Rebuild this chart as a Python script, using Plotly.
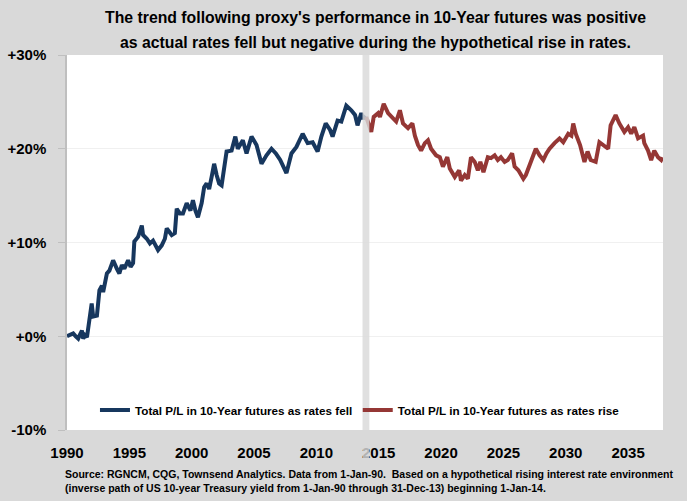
import plotly.graph_objects as go

# ---- data ----
fell_years = [1990.0, 1990.25, 1990.5, 1990.7, 1990.9, 1991.05, 1991.2, 1991.3, 1991.45, 1991.6,
              1991.8, 1991.98, 1992.1, 1992.4, 1992.6, 1992.8, 1992.9, 1993.2, 1993.4, 1993.7,
              1994.0, 1994.2, 1994.4, 1994.6, 1994.9, 1995.1, 1995.3, 1995.4, 1995.7, 1996.0,
              1996.1, 1996.4, 1996.65, 1996.9, 1997.3, 1997.6, 1997.85, 1998.0, 1998.4, 1998.65,
              1998.8, 1999.05, 1999.3, 1999.6, 1999.9, 2000.1, 2000.3, 2000.5, 2000.8, 2001.0,
              2001.2, 2001.4, 2001.6, 2001.8, 2002.0, 2002.2, 2002.4, 2002.8, 2003.2, 2003.5,
              2003.7, 2004.1, 2004.4, 2004.8, 2005.2, 2005.6, 2006.0, 2006.4, 2006.75, 2007.1,
              2007.6, 2008.0, 2008.4, 2008.9, 2009.3, 2009.7, 2010.1, 2010.4, 2010.75, 2011.1,
              2011.3, 2011.7, 2012.0, 2012.4, 2012.8, 2013.1, 2013.3, 2013.6, 2013.75, 2013.95]
fell_pl = [0.0, 0.2, 0.3, 0.0, -0.25, 0.2, 0.6, -0.25, 0.1, -0.1,
           1.9, 3.5, 2.1, 2.2, 4.9, 5.4, 4.7, 6.7, 7.0, 8.1,
           7.2, 6.7, 7.6, 7.2, 8.1, 7.4, 7.8, 10.1, 10.6, 11.8,
           10.8, 10.4, 9.9, 10.2, 9.2, 9.7, 10.4, 11.5, 10.8, 11.0,
           13.6, 13.1, 13.1, 14.2, 13.4, 14.5, 13.4, 12.7, 14.2, 15.9,
           16.3, 15.7, 17.0, 18.4, 17.2, 16.3, 16.1, 19.7, 19.8, 21.3,
           20.0, 20.9, 19.5, 21.3, 20.4, 18.4, 19.3, 20.0, 19.5, 18.8,
           17.4, 19.5, 20.2, 21.6, 20.6, 20.7, 19.7, 21.3, 22.7, 22.0,
           21.3, 23.0, 22.9, 24.6, 24.1, 23.6, 22.5, 23.8, 23.2, 23.5]

rise_years = [2014.0, 2014.4, 2014.6, 2014.95, 2015.1, 2015.4, 2015.75, 2016.15, 2016.4, 2016.7,
              2016.95, 2017.35, 2017.7, 2017.9, 2018.15, 2018.4, 2018.7, 2018.95, 2019.2, 2019.6,
              2019.9, 2020.15, 2020.5, 2020.7, 2021.1, 2021.45, 2021.6, 2021.9, 2022.15, 2022.4,
              2022.7, 2022.95, 2023.15, 2023.4, 2023.75, 2024.0, 2024.3, 2024.55, 2024.8, 2025.1,
              2025.35, 2025.7, 2025.9, 2026.2, 2026.6, 2026.8, 2027.2, 2027.6, 2027.9, 2028.2,
              2028.45, 2028.7, 2029.1, 2029.5, 2029.8, 2030.2, 2030.45, 2030.6, 2030.8, 2031.15,
              2031.5, 2031.75, 2032.0, 2032.4, 2032.7, 2033.0, 2033.4, 2033.6, 2033.8, 2034.0,
              2034.3, 2034.7, 2035.0, 2035.25, 2035.5, 2035.8, 2036.2, 2036.3, 2036.6, 2036.85,
              2037.1, 2037.4, 2037.65, 2037.75]
rise_pl = [23.4, 21.8, 23.4, 23.8, 23.4, 24.8, 23.8, 23.2, 22.9, 24.1,
           22.7, 22.2, 22.7, 21.4, 20.4, 19.8, 20.6, 20.9, 20.0, 19.3,
           19.1, 18.1, 19.1, 17.9, 17.0, 17.7, 16.6, 17.2, 16.8, 19.1,
           18.6, 17.7, 18.6, 17.5, 19.1, 19.0, 19.3, 18.8, 19.1, 18.6,
           18.8, 19.5, 18.1, 17.7, 16.8, 17.2, 18.6, 20.0, 19.3, 18.8,
           19.5, 20.0, 20.6, 21.1, 20.7, 21.6, 21.4, 22.7, 21.6, 20.4,
           18.6, 19.7, 18.8, 18.6, 20.7, 20.4, 20.0, 22.5, 23.0, 23.6,
           22.7, 21.8, 22.3, 21.6, 22.3, 21.1, 21.4, 20.6, 19.8, 18.8,
           19.8, 19.1, 18.8, 19.1]

x_tick_years = [1990, 1995, 2000, 2005, 2010, 2015, 2020, 2025, 2030, 2035]
y_tick_vals = [-10, 0, 10, 20, 30]
y_tick_text = ["-10%", "+0%", "+10%", "+20%", "+30%"]

fell_name = "Total P/L in 10-Year futures as rates fell"
rise_name = "Total P/L in 10-Year futures as rates rise"
title_lines = ["The trend following proxy's performance in 10-Year futures was positive",
               "as actual rates fell but negative during the hypothetical rise in rates."]
source_lines = ["Source: RGNCM, CQG, Townsend Analytics. Data from 1-Jan-90.  Based on a hypothetical rising interest rate environment",
                "(inverse path of US 10-year Treasury yield from 1-Jan-90 through 31-Dec-13) beginning 1-Jan-14."]
split_year = 2014.0

FONT = "Liberation Sans, Arial, sans-serif"
BLUE = "#17375E"
RED = "#953735"
BG = "#D9D9D9"

W, H = 687, 501
L, R, T, B = 67, 23.5, 55, 71
PW, PH = W - L - R, H - T - B

fig = go.Figure()
fig.add_trace(go.Scatter(x=fell_years, y=fell_pl, mode="lines", name=fell_name,
                         line=dict(color=BLUE, width=4), legend="legend"))
fig.add_trace(go.Scatter(x=rise_years, y=rise_pl, mode="lines", name=rise_name,
                         line=dict(color=RED, width=4), legend="legend2"))

# gray separator band at the start of the hypothetical period
fig.add_shape(type="rect", xref="x", yref="paper",
              x0=split_year - 0.3, x1=split_year + 0.25, y0=-0.085, y1=1,
              fillcolor="rgba(217,217,217,0.82)", line=dict(width=0), layer="above")

legend_font = dict(family=FONT, size=11.7, weight="bold", color="black")
legend_common = dict(orientation="h", yanchor="middle", xanchor="left",
                     bgcolor="rgba(0,0,0,0)", font=legend_font, itemclick=False,
                     itemdoubleclick=False)

fig.update_layout(
    width=W, height=H,
    margin=dict(l=L, r=R, t=T, b=B, pad=0),
    paper_bgcolor=BG, plot_bgcolor="white",
    font=dict(family=FONT, color="black"),
    showlegend=True,
    legend=dict(x=(95 - L) / PW, y=(430 - 410) / PH, **legend_common),
    legend2=dict(x=(358 - L) / PW, y=(430 - 410) / PH, **legend_common),
    xaxis=dict(range=[1990, 2037.8], tickmode="array", tickvals=x_tick_years,
               ticktext=[str(v) for v in x_tick_years], showgrid=False, zeroline=False,
               showline=False, ticks="", ticklabelstandoff=12, automargin=False,
               tickfont=dict(family=FONT, size=15, weight="bold", color="black")),
    yaxis=dict(range=[-10, 30], tickmode="array", tickvals=y_tick_vals, ticktext=y_tick_text,
               showgrid=True, gridcolor="#F0F0F0", gridwidth=1, zeroline=False,
               showline=True, linecolor="#BFBFBF", linewidth=1.5, automargin=False,
               ticks="outside", ticklen=7, tickcolor="#BFBFBF", ticklabelstandoff=9,
               tickfont=dict(family=FONT, size=15, weight="bold", color="black")),
)

for i, line in enumerate(title_lines):
    fig.add_annotation(text=line, xref="paper", yref="paper",
                       x=(376 - L) / PW, y=1 + ((T - 18) - i * 24) / PH,
                       xanchor="center", yanchor="middle", showarrow=False,
                       font=dict(family=FONT, size=15.8, weight="bold", color="black"))

for i, line in enumerate(source_lines):
    fig.add_annotation(text=line, xref="paper", yref="paper",
                       x=(63 - L) / PW, y=-((474 + i * 14) - (H - B)) / PH,
                       xanchor="left", yanchor="middle", showarrow=False,
                       font=dict(family=FONT, size=10.5, weight="bold", color="black"))

fig.write_html("out.html", config={"displayModeBar": False},
               post_script="document.body.style.margin='0';document.body.style.background='#D9D9D9';")
